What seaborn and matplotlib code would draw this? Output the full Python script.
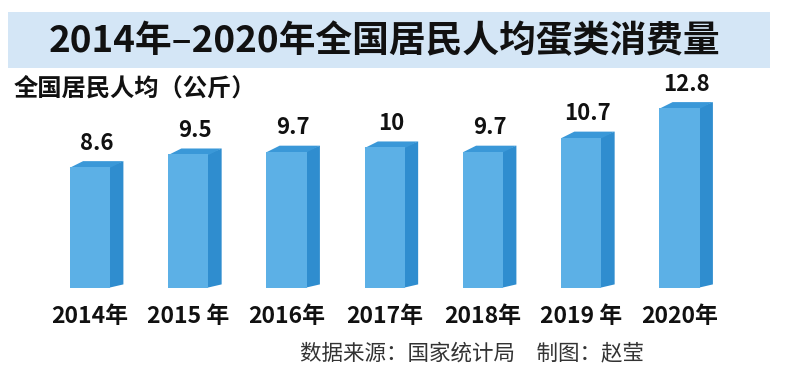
import matplotlib
matplotlib.use("Agg")
import matplotlib.pyplot as plt
import seaborn as sns
import pandas as pd
from matplotlib.patches import Polygon, Rectangle

# data
years = ["2014年", "2015 年", "2016年", "2017年", "2018年", "2019 年", "2020年"]
values = [8.6, 9.5, 9.7, 10, 9.7, 10.7, 12.8]
value_labels = ["8.6", "9.5", "9.7", "10", "9.7", "10.7", "12.8"]

title = "2014年–2020年全国居民人均蛋类消费量"
unit_label = "全国居民人均（公斤）"
source = "数据来源：国家统计局　制图：赵莹"

sns.set_style("white")
plt.rcParams['font.family'] = ['Noto Sans CJK SC', 'DejaVu Sans']

df = pd.DataFrame({"year": years, "value": values})

fig = plt.figure(figsize=(7.86, 3.72), dpi=100)
fig.patch.set_facecolor("white")

# title banner
fig.patches.append(Rectangle((0.010, 0.817), 0.970, 0.150, transform=fig.transFigure,
                             facecolor="#d4e6f6", edgecolor="none", zorder=0))
fig.text(0.489, 0.887, title, ha="center", va="center", fontsize=26.5,
         fontweight="heavy", color="#111111")
fig.text(0.017, 0.763, unit_label, ha="left", va="center", fontsize=17.5,
         fontweight="bold", color="#111111")
fig.text(0.382, 0.050, source, ha="left", va="center", fontsize=15.5,
         color="#333333")

ax = fig.add_axes([0.052, 0.226, 0.875, 0.529])
sns.barplot(data=df, x="year", y="value", color="#5cb0e6", width=0.41,
            saturation=1, linewidth=0, ax=ax, zorder=2)
ax.set_xlim(-0.5, 6.5)
ax.set_ylim(0, 14)

# fake 3d: side and top faces built from the bar patches
dx, dy = 0.135, 0.42
for p, lab in zip(ax.patches, value_labels):
    x0 = p.get_x()
    w = p.get_width()
    h = p.get_height()
    x1 = x0 + w
    xs = x1 - 0.02  # tuck under the front face, no seam
    side = Polygon([(xs, 0), (x1 + dx, dy * 0.6), (x1 + dx, h + dy), (xs, h)],
                   closed=True, facecolor="#2f8dcf", edgecolor="none", zorder=1)
    top = Polygon([(x0, h - 0.05), (x0 + dx, h + dy), (x1 + dx, h + dy), (x1, h - 0.05)],
                  closed=True, facecolor="#3a98d8", edgecolor="none", zorder=1.5)
    ax.add_patch(side)
    ax.add_patch(top)
    ax.text(x0 + w / 2 + dx / 2, h + dy + 0.45, lab, ha="center", va="bottom",
            fontsize=16, fontweight="bold", color="#111111")

ax.set_xlabel("")
ax.set_ylabel("")
ax.set_yticks([])
ax.tick_params(axis="x", length=0, pad=12)
for t in ax.get_xticklabels():
    t.set_fontsize(16.5)
    t.set_fontweight("bold")
    t.set_color("#111111")
sns.despine(ax=ax, left=True, bottom=True)
ax.patch.set_alpha(0)

fig.savefig("out.png", dpi=100)
